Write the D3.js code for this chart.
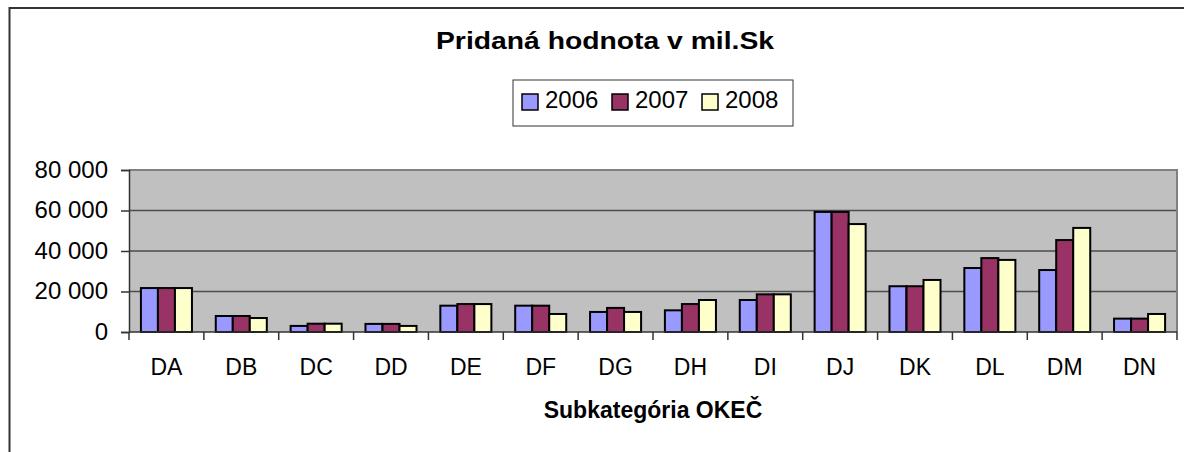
<!DOCTYPE html>
<html>
<head>
<meta charset="utf-8">
<script src="https://cdn.jsdelivr.net/npm/d3@7"></script>
<style>
  body { margin: 0; background: #fff; }
  text { font-family: "Liberation Sans", Arial, sans-serif; fill: #000; }
</style>
</head>
<body>
<div id="chart"></div>
<script>
// data
var categories = ["DA", "DB", "DC", "DD", "DE", "DF", "DG", "DH", "DI", "DJ", "DK", "DL", "DM", "DN"];
var years = ["2006", "2007", "2008"];
var values2006 = [21700, 7900, 3000, 4000, 13000, 13000, 9900, 10700, 15800, 59300, 22600, 31600, 30600, 6600];
var values2007 = [21700, 7900, 4100, 4000, 13800, 13000, 11900, 13800, 18600, 59300, 22600, 36500, 45400, 6600];
var values2008 = [21700, 6900, 4100, 3000, 13800, 8900, 9900, 15800, 18600, 53300, 25700, 35600, 51400, 8900];
var yTicks = [0, 20000, 40000, 60000, 80000];
var colors = ["#9999FF", "#993366", "#FFFFCC"];

var series = [values2006, values2007, values2008];

var width = 1184, height = 452;
var plot = { left: 129, right: 1177, top: 170, bottom: 332 };

var svg = d3.select("#chart").append("svg")
  .attr("width", width)
  .attr("height", height);

// outer frame (only left and top visible)
svg.append("path")
  .attr("d", "M9.5,452 L9.5,8 L1184,8")
  .attr("fill", "none")
  .attr("stroke", "#333")
  .attr("stroke-width", 2);

// title
svg.append("text")
  .attr("x", 605)
  .attr("y", 49)
  .attr("text-anchor", "middle")
  .attr("font-weight", "bold")
  .attr("font-size", "24px")
  .attr("textLength", 338)
  .attr("lengthAdjust", "spacingAndGlyphs")
  .text("Pridaná hodnota v mil.Sk");

// scales
var x0 = d3.scaleBand().domain(categories).range([plot.left, plot.right]).padding(0);
var x1 = d3.scaleBand().domain(years).range([0, x0.bandwidth()]).paddingInner(0).paddingOuter(0.7);
var y = d3.scaleLinear().domain([0, 80000]).range([plot.bottom, plot.top]);

var fmt = d3.formatLocale({ decimal: ",", thousands: " ", grouping: [3], currency: ["", ""] }).format(",d");

// plot background
svg.append("rect")
  .attr("x", plot.left)
  .attr("y", plot.top)
  .attr("width", plot.right - plot.left)
  .attr("height", plot.bottom - plot.top)
  .attr("fill", "#C0C0C0");

// gridlines
svg.append("g")
  .selectAll("line")
  .data(yTicks.slice(1, -1))
  .join("line")
  .attr("x1", plot.left)
  .attr("x2", plot.right)
  .attr("y1", function (d) { return y(d); })
  .attr("y2", function (d) { return y(d); })
  .attr("stroke", "#4d4d4d")
  .attr("stroke-width", 1.5);

// plot border top/right
svg.append("path")
  .attr("d", "M" + plot.left + "," + plot.top + " L" + plot.right + "," + plot.top + " L" + plot.right + "," + plot.bottom)
  .attr("fill", "none")
  .attr("stroke", "#808080")
  .attr("stroke-width", 2);

// bars
var groups = svg.append("g")
  .selectAll("g")
  .data(categories)
  .join("g")
  .attr("transform", function (d) { return "translate(" + x0(d) + ",0)"; });

groups.selectAll("rect")
  .data(function (d, i) {
    return years.map(function (yr, j) { return { year: yr, value: series[j][i], k: j }; });
  })
  .join("rect")
  .attr("x", function (d) { return x1(d.year); })
  .attr("y", function (d) { return y(d.value); })
  .attr("width", x1.bandwidth())
  .attr("height", function (d) { return y(0) - y(d.value); })
  .attr("fill", function (d) { return colors[d.k]; })
  .attr("stroke", "#000")
  .attr("stroke-width", 2);

// y axis
var yAxis = svg.append("g")
  .attr("transform", "translate(" + plot.left + ",0)")
  .call(d3.axisLeft(y).tickValues(yTicks).tickFormat(fmt).tickSize(8).tickPadding(13));
yAxis.select(".domain").attr("stroke", "#333").attr("stroke-width", 1.5);
yAxis.selectAll(".tick line").attr("stroke", "#333").attr("stroke-width", 1.5);
yAxis.selectAll("text")
  .attr("font-size", "24px")
  .attr("font-family", "Liberation Sans, Arial, sans-serif")
  .attr("dy", "0.3em")
  .attr("fill", "#000");

// x axis line and ticks at category boundaries
svg.append("line")
  .attr("x1", plot.left)
  .attr("x2", plot.right)
  .attr("y1", plot.bottom)
  .attr("y2", plot.bottom)
  .attr("stroke", "#333")
  .attr("stroke-width", 1.5);

var bounds = categories.map(function (c) { return x0(c); }).concat([plot.right]);
svg.append("g")
  .selectAll("line")
  .data(bounds)
  .join("line")
  .attr("x1", function (d) { return d; })
  .attr("x2", function (d) { return d; })
  .attr("y1", plot.bottom)
  .attr("y2", plot.bottom + 8)
  .attr("stroke", "#333")
  .attr("stroke-width", 1.5);

svg.append("g")
  .selectAll("text")
  .data(categories)
  .join("text")
  .attr("x", function (d) { return x0(d) + x0.bandwidth() / 2; })
  .attr("y", 375)
  .attr("text-anchor", "middle")
  .attr("font-size", "23px")
  .text(function (d) { return d; });

// x axis title
svg.append("text")
  .attr("x", 653)
  .attr("y", 418)
  .attr("text-anchor", "middle")
  .attr("font-weight", "bold")
  .attr("font-size", "23px")
  .text("Subkategória OKEČ");

// legend
var legend = svg.append("g");
legend.append("rect")
  .attr("x", 513)
  .attr("y", 80)
  .attr("width", 280)
  .attr("height", 46)
  .attr("fill", "#fff")
  .attr("stroke", "#333")
  .attr("stroke-width", 1);

var legendX = [522, 612, 702];
var items = legend.selectAll("g.item")
  .data(years)
  .join("g")
  .attr("class", "item")
  .attr("transform", function (d, i) { return "translate(" + legendX[i] + ",0)"; });

items.append("rect")
  .attr("x", 0)
  .attr("y", 94)
  .attr("width", 16)
  .attr("height", 16)
  .attr("fill", function (d, i) { return colors[i]; })
  .attr("stroke", "#000")
  .attr("stroke-width", 1.5);

items.append("text")
  .attr("x", 23)
  .attr("y", 108)
  .attr("font-size", "24px")
  .text(function (d) { return d; });
</script>
</body>
</html>
